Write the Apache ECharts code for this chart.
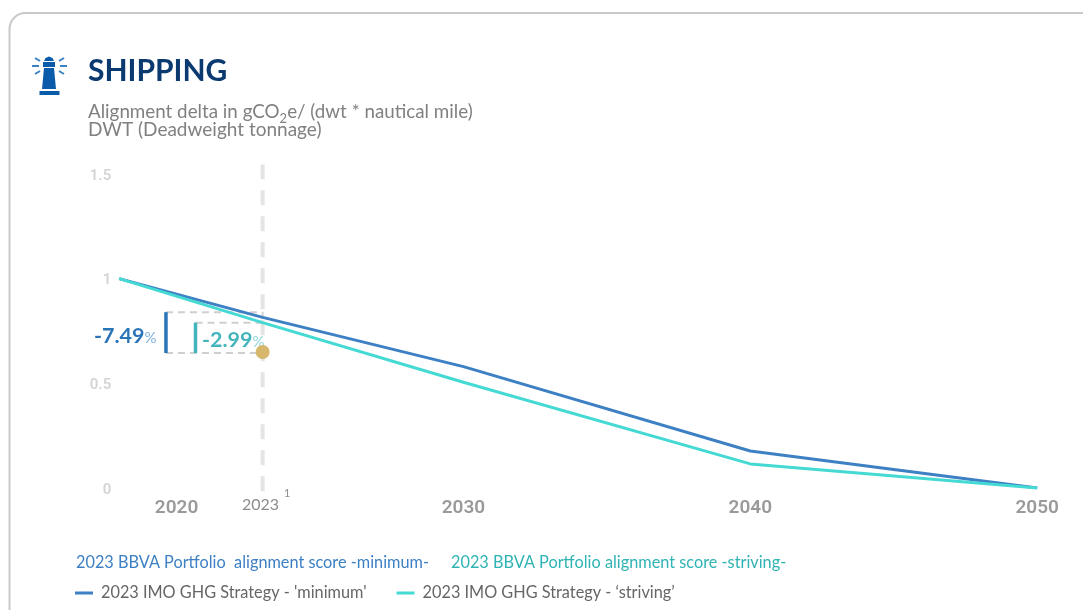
<!DOCTYPE html>
<html><head><meta charset="utf-8">
<script src="https://cdn.jsdelivr.net/npm/echarts@6/dist/echarts.min.js"></script>
<style>html,body{margin:0;padding:0;background:#fff;overflow:hidden}#c{width:1083px;height:610px}</style>
</head><body><div id="c"></div>
<script>
const years = [2018, 2023, 2030, 2040, 2050];
const minimumValues = [1, 0.815, 0.58, 0.177, 0];
const strivingValues = [1, 0.79, 0.505, 0.115, 0];
const xTickLabels = [2020, 2030, 2040, 2050];
const portfolioPoint = [2023, 0.65];
const minimumName = "2023 IMO GHG Strategy - 'minimum'";
const strivingName = "2023 IMO GHG Strategy - ‘striving’";
const portfolioMinimumName = "2023 BBVA Portfolio  alignment score -minimum-";
const portfolioStrivingName = "2023 BBVA Portfolio alignment score -striving-";
const minimumDelta = "-7.49";
const strivingDelta = "-2.99";
const BLUE = '#3d80c4', TEAL = '#45d9d4', FONT = 'Lato, "Open Sans", sans-serif';
const pair = (xs, ys) => xs.map((x, i) => [x, ys[i]]);

function helper(data, color, width, dash) {
  return {type: 'line', data, silent: true, symbol: 'none', clip: false, animation: false,
    lineStyle: {color, width, type: dash || 'solid', cap: 'butt'}, z: dash ? 1 : 4};
}
const DASH = [7, 5];
const bracketMinX = 2019.63, bracketStrX = 2020.66;
const bracketTop = 0.84, bracketMid = 0.79, bracketLow = 0.645;

const chart = echarts.init(document.getElementById('c'), null, {renderer: 'canvas'});
chart.setOption({
  animation: false,
  backgroundColor: '#fff',
  grid: {left: 119.2, width: 918, top: 174, height: 314},
  xAxis: {type: 'value', min: 2018, max: 2050, splitLine: {show: false}, axisLine: {show: false}, axisTick: {show: false},
    axisLabel: {customValues: xTickLabels, formatter: v => String(v), color: '#9a9a9a', fontSize: 19, fontWeight: 600,
      fontFamily: 'Roboto, sans-serif', margin: 11, showMinLabel: true, showMaxLabel: true}},
  yAxis: {type: 'value', min: 0, max: 1.5, interval: 0.5, splitLine: {show: false}, axisLine: {show: false}, axisTick: {show: false},
    axisLabel: {formatter: '{a|{value}}', margin: 8,
      rich: {a: {color: '#d4d4d4', fontSize: 15, fontWeight: 600, fontFamily: 'Roboto, sans-serif', padding: [4, 0, 0, 0]}}}},
  legend: {left: 70, top: 580, itemWidth: 18, itemHeight: 3, itemGap: 30, icon: 'rect',
    data: [minimumName, strivingName], textStyle: {color: '#666', fontSize: 16.3, fontFamily: FONT, padding: [0, 0, 0, 3]}},
  series: [
    helper([[2023, -0.015], [2023, 1.545]], '#e4e4e4', 4, [15, 11]),
    helper([[bracketMinX, bracketTop], [2023, bracketTop]], '#cfcfcf', 2, DASH),
    helper([[bracketMinX, bracketLow], [2023, bracketLow]], '#cfcfcf', 2, DASH),
    helper([[bracketStrX, bracketMid], [2023, bracketMid]], '#cfcfcf', 2, DASH),
    helper([[2023, bracketTop], [2023, bracketMid]], '#cfcfcf', 2, DASH),
    {name: minimumName, type: 'line', data: pair(years, minimumValues), symbol: 'none', z: 5,
      lineStyle: {color: BLUE, width: 3}, itemStyle: {color: BLUE}},
    {name: strivingName, type: 'line', data: pair(years, strivingValues), symbol: 'none', z: 6,
      lineStyle: {color: TEAL, width: 3}, itemStyle: {color: TEAL}},
    helper([[bracketMinX, bracketTop], [bracketMinX, bracketLow]], '#2a74b8', 3.5),
    helper([[bracketStrX, bracketMid], [bracketStrX, bracketLow]], '#45b5bd', 3.5),
    {type: 'scatter', data: [portfolioPoint], symbolSize: 14, itemStyle: {color: '#d6b76c', opacity: 1}, z: 8, silent: true}
  ],
  graphic: [
    {type: 'rect', shape: {x: 9.5, y: 13, width: 1200, height: 800, r: 16}, style: {fill: 'none', stroke: '#c9c9c9', lineWidth: 2}, silent: true, z: -1},
    // lighthouse icon
    {type: 'group', silent: true, children: [
      {type: 'polygon', shape: {points: [[44,68],[54,68],[56,89],[42,89]]}, style: {fill: '#0a5cab'}},
      {type: 'rect', shape: {x: 43, y: 62, width: 12, height: 5}, style: {fill: '#0a5cab'}},
      {type: 'polygon', shape: {points: [[44,61],[45.5,58],[49,56.5],[52.5,58],[54,61]]}, style: {fill: '#0a5cab'}},
      {type: 'rect', shape: {x: 39.5, y: 91, width: 20, height: 4}, style: {fill: '#0a5cab'}},
      {type: 'rect', shape: {x: 32, y: 65, width: 7, height: 2}, style: {fill: '#3a80c4'}},
      {type: 'rect', shape: {x: 60, y: 65, width: 7, height: 2}, style: {fill: '#3a80c4'}},
      {type: 'line', shape: {x1: 35, y1: 58, x2: 40, y2: 61}, style: {stroke: '#3a80c4', lineWidth: 2}},
      {type: 'line', shape: {x1: 64, y1: 58, x2: 59, y2: 61}, style: {stroke: '#3a80c4', lineWidth: 2}},
      {type: 'line', shape: {x1: 35, y1: 74, x2: 40, y2: 71}, style: {stroke: '#3a80c4', lineWidth: 2}},
      {type: 'line', shape: {x1: 64, y1: 74, x2: 59, y2: 71}, style: {stroke: '#3a80c4', lineWidth: 2}}
    ]},
    {type: 'text', x: 88, y: 56, silent: true, style: {text: 'SHIPPING', fill: '#0b3a70', font: 'bold 30px ' + FONT}},
    {type: 'text', x: 88, y: 98, silent: true, style: {text: 'Alignment delta in gCO{s|2}e/ (dwt * nautical mile)', fill: '#808080', font: '18.8px ' + FONT,
      rich: {s: {fontSize: 13, fontFamily: FONT, fill: '#808080', padding: [14, 0, 0, 0]}}}},
    {type: 'text', x: 88, y: 120, silent: true, style: {text: 'DWT (Deadweight tonnage)', fill: '#808080', font: '19px ' + FONT}},
    {type: 'text', x: 242, y: 497, silent: true, style: {text: '2023', fill: '#8c8c8c', font: '16px ' + FONT}},
    {type: 'text', x: 284, y: 488, silent: true, style: {text: '1', fill: '#8c8c8c', font: '11px ' + FONT}},
    {type: 'text', x: 94, y: 325, silent: true, style: {text: minimumDelta + '{p|%}', fill: '#2a74b8', font: 'bold 21.5px ' + FONT,
      rich: {p: {fontSize: 15, fontFamily: FONT, fill: '#7fb0dc', padding: [4, 0, 0, 0]}}}},
    {type: 'text', x: 202, y: 329, silent: true, style: {text: strivingDelta + '{p|%}', fill: '#45b5bd', font: 'bold 21.5px ' + FONT,
      rich: {p: {fontSize: 15, fontFamily: FONT, fill: '#8fd4d8', padding: [4, 0, 0, 0]}}}},
    {type: 'text', x: 76, y: 555, silent: true, style: {text: portfolioMinimumName, fill: '#3d80c4', font: '16.3px ' + FONT}},
    {type: 'text', x: 451, y: 555, silent: true, style: {text: portfolioStrivingName, fill: '#2fb3b3', font: '16.3px ' + FONT}}
  ]
});
</script></body></html>
